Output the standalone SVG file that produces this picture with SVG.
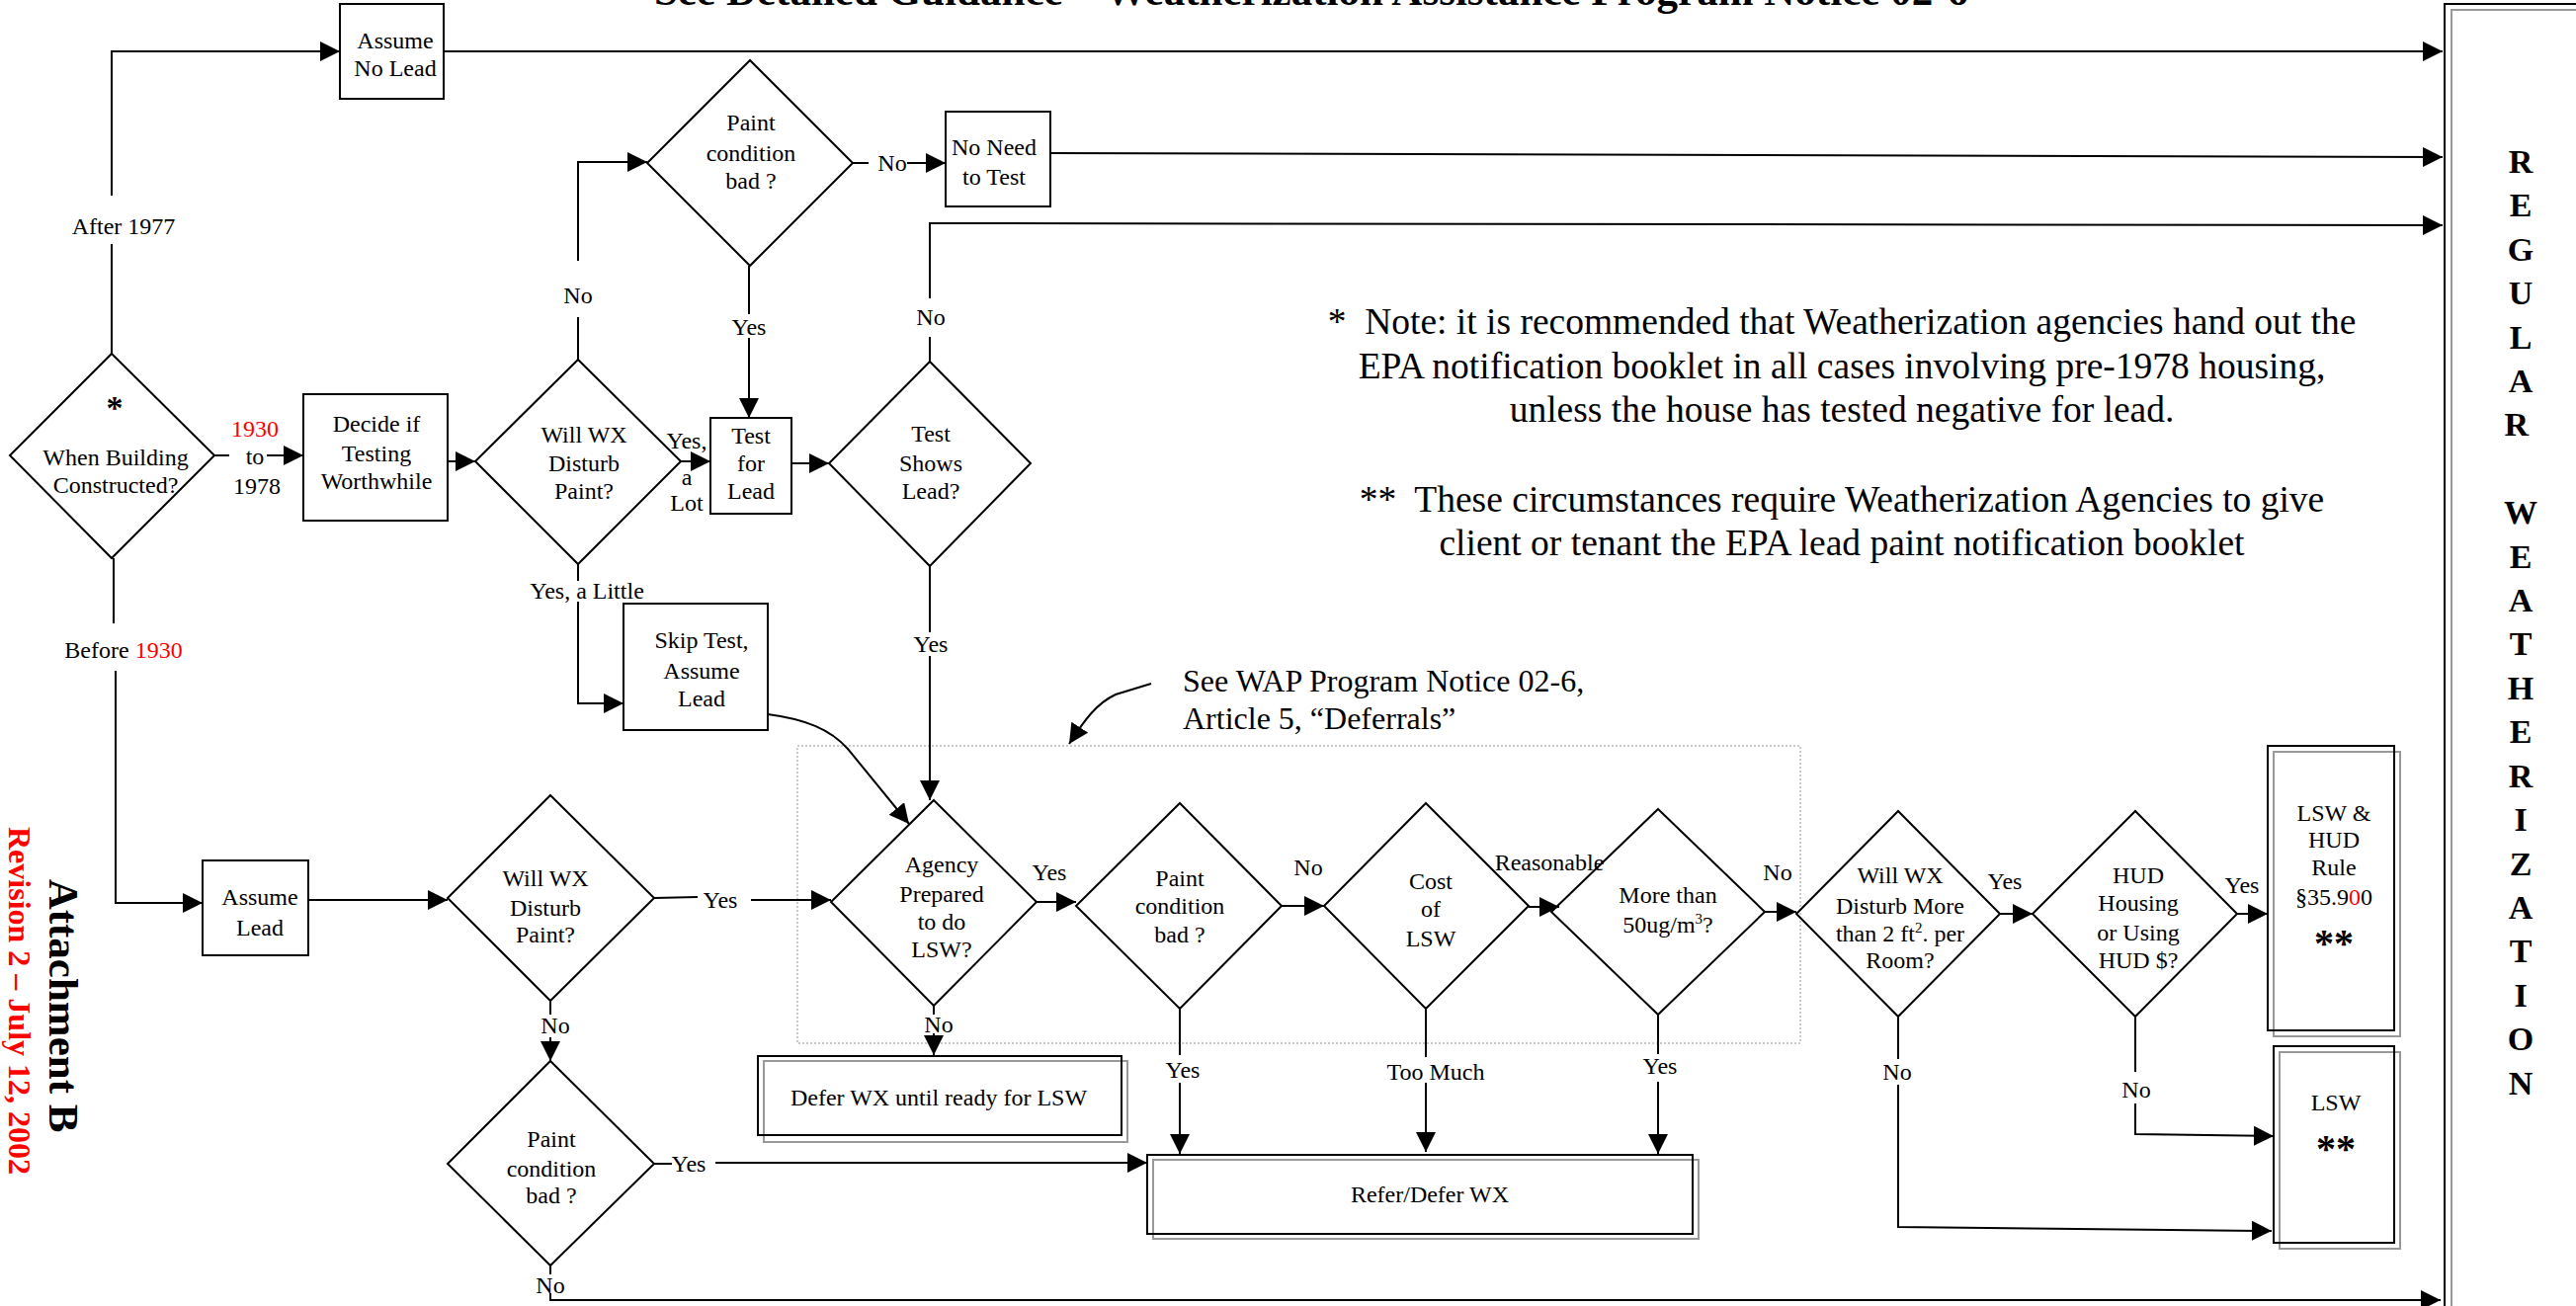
<svg xmlns="http://www.w3.org/2000/svg" width="2607" height="1322" viewBox="0 0 2607 1322">
<defs>
<marker id="ah" viewBox="0 0 20 20" refX="20" refY="10" markerWidth="20" markerHeight="20" markerUnits="userSpaceOnUse" orient="auto"><path d="M0,0 L20,10 L0,20 z" fill="#000"/></marker>
<style>
.n{fill:none;stroke:#000;stroke-width:2}
.g{fill:none;stroke:#999;stroke-width:2}
.t{font-family:"Liberation Serif","Times New Roman",serif;font-size:24px;fill:#000;text-anchor:middle}
.b{font-weight:bold}
.r{fill:#ff0000}
.l{fill:none;stroke:#000;stroke-width:2}
.a{fill:none;stroke:#000;stroke-width:2;marker-end:url(#ah)}
.note{font-size:37.5px;white-space:pre}
</style>
</defs>
<rect width="2607" height="1322" fill="#fff"/>

<text class="t b" x="662" y="5" style="text-anchor:start;font-size:42px" textLength="1330" lengthAdjust="spacingAndGlyphs">See Detailed Guidance – Weatherization Assistance Program Notice 02-6</text>

<g id="attachment">
<text class="t b" transform="translate(50,1018) rotate(90)" style="font-size:43px">Attachment B</text>
<text class="t b r" transform="translate(9,1013) rotate(90)" style="font-size:32px">Revision 2 – July 12, 2002</text>
</g>

<g id="notes">
<text class="t note" x="1864" y="338">*  Note: it is recommended that Weatherization agencies hand out the</text>
<text class="t note" x="1864" y="383">EPA notification booklet in all cases involving pre-1978 housing,</text>
<text class="t note" x="1864" y="427">unless the house has tested negative for lead.</text>
<text class="t note" x="1864" y="518">**  These circumstances require Weatherization Agencies to give</text>
<text class="t note" x="1864" y="562">client or tenant the EPA lead paint notification booklet</text>
</g>

<g id="deferral-note">
<rect x="807" y="755" width="1015" height="301" fill="none" stroke="#bbb" stroke-width="1.5" stroke-dasharray="2,2"/>
<text class="t" style="font-size:32px;text-anchor:start" x="1197" y="700">See WAP Program Notice 02-6,</text>
<text class="t" style="font-size:32px;text-anchor:start" x="1197" y="738">Article 5, “Deferrals”</text>
</g>

<g id="regular-wx">
<rect class="n" x="2474" y="4" width="220" height="1400"/>
<rect class="g" x="2481" y="10" width="220" height="1400"/>
<text class="t b" style="font-size:34px">
<tspan x="2551" y="175">R</tspan><tspan x="2551" y="219">E</tspan><tspan x="2551" y="264">G</tspan><tspan x="2551" y="308">U</tspan><tspan x="2551" y="353">L</tspan><tspan x="2551" y="397">A</tspan><tspan x="2551" y="441">R</tspan>
<tspan x="2551" y="530">W</tspan><tspan x="2551" y="575">E</tspan><tspan x="2551" y="619">A</tspan><tspan x="2551" y="663">T</tspan><tspan x="2551" y="708">H</tspan><tspan x="2551" y="752">E</tspan><tspan x="2551" y="797">R</tspan><tspan x="2551" y="841">I</tspan><tspan x="2551" y="886">Z</tspan><tspan x="2551" y="930">A</tspan><tspan x="2551" y="974">T</tspan><tspan x="2551" y="1019">I</tspan><tspan x="2551" y="1063">O</tspan><tspan x="2551" y="1108">N</tspan>
</text>
</g>

<g id="connectors">
<path class="a" d="M113,358 V247 M113,198 V52 H344"/>
<path class="a" d="M449,52 H2472"/>
<path class="a" d="M217,461 H232 M270,461 H307"/>
<path class="a" d="M453,467 H481"/>
<path class="a" d="M689,467 H719"/>
<path class="a" d="M801,469 H839"/>
<path class="a" d="M585,364 V321 M585,264 V164 H655"/>
<path class="a" d="M863,165 H879 M918,165 H957"/>
<path class="a" d="M758,269 V318 M758,342 V423"/>
<path class="a" d="M1063,155 L2472,159"/>
<path class="a" d="M941,366 V341 M941,302 V226 L2472,228"/>
<path class="a" d="M941,573 V640 M941,664 V810"/>
<path class="a" d="M585,571 V588 M585,609 V712 H631"/>
<path class="a" d="M777,723 C815,728 840,738 858,758 L920,834"/>
<path class="a" d="M115,565 V631 M117,679 V914 H205"/>
<path class="a" d="M312,911 H453"/>
<path class="a" d="M662,909 L706,908 M760,911 H841"/>
<path class="a" d="M557,1013 V1027 M557,1050 V1074"/>
<path class="a" d="M662,1178 H680 M724,1177 H1161"/>
<path class="a" d="M557,1281 V1290 M557,1309 V1316 H2470"/>
<path class="a" d="M1049,913 H1089"/>
<path class="a" d="M1297,917 H1340"/>
<path class="a" d="M1547,918 H1578"/>
<path class="a" d="M1786,923 H1818"/>
<path class="a" d="M2024,925 H2057"/>
<path class="a" d="M2264,925 H2295"/>
<path class="a" d="M945,1018 V1027 M945,1046 V1068"/>
<path class="a" d="M1194,1021 V1068 M1194,1096 V1168"/>
<path class="a" d="M1443,1021 V1070 M1443,1096 V1166"/>
<path class="a" d="M1678,1027 V1067 M1678,1095 V1168"/>
<path class="a" d="M1921,1029 V1072 M1921,1098 V1242 L2299,1246"/>
<path class="a" d="M2161,1029 V1085 M2161,1117 V1148 L2301,1150"/>
<path class="a" d="M1165,692 L1129,703 C1110,712 1098,728 1082,753"/>
</g>

<g id="connector-labels">
<text class="t" x="125" y="237">After 1977</text>
<text class="t" x="258" y="442"><tspan class="r">1930</tspan></text>
<text class="t" x="258" y="470">to</text>
<text class="t" x="260" y="500">1978</text>
<text class="t" x="125" y="666">Before <tspan class="r">1930</tspan></text>
<text class="t" x="585" y="307">No</text>
<text class="t" x="903" y="173">No</text>
<text class="t" x="758" y="339">Yes</text>
<text class="t" x="695" y="454">Yes,</text>
<text class="t" x="695" y="491">a</text>
<text class="t" x="695" y="517">Lot</text>
<text class="t" x="942" y="329">No</text>
<text class="t" x="942" y="660">Yes</text>
<text class="t" x="594" y="606">Yes, a Little</text>
<text class="t" x="729" y="919">Yes</text>
<text class="t" x="562" y="1046">No</text>
<text class="t" x="697" y="1186">Yes</text>
<text class="t" x="557" y="1309">No</text>
<text class="t" x="1062" y="891">Yes</text>
<text class="t" x="1324" y="886">No</text>
<text class="t" x="1568" y="881">Reasonable</text>
<text class="t" x="1799" y="891">No</text>
<text class="t" x="2029" y="900">Yes</text>
<text class="t" x="2269" y="904">Yes</text>
<text class="t" x="950" y="1045">No</text>
<text class="t" x="1197" y="1091">Yes</text>
<text class="t" x="1453" y="1093">Too Much</text>
<text class="t" x="1680" y="1087">Yes</text>
<text class="t" x="1920" y="1093">No</text>
<text class="t" x="2162" y="1111">No</text>
</g>

<g id="n-assume-no-lead">
<rect class="n" x="344" y="4" width="105" height="96"/>
<text class="t" x="400" y="49">Assume</text>
<text class="t" x="400" y="77">No Lead</text>
</g>

<g id="n-when-built">
<polygon class="n" points="113,358 217,461 113,565 10,461"/>
<text class="t b" style="font-size:34px" x="116" y="424">*</text>
<text class="t" x="117" y="471">When Building</text>
<text class="t" x="117" y="499">Constructed?</text>
</g>

<g id="n-decide">
<rect class="n" x="307" y="399" width="146" height="128"/>
<text class="t" x="381" y="437">Decide if</text>
<text class="t" x="381" y="467">Testing</text>
<text class="t" x="381" y="495">Worthwhile</text>
</g>

<g id="n-will-wx-1">
<polygon class="n" points="585,364 689,467 585,571 481,467"/>
<text class="t" x="591" y="448">Will WX</text>
<text class="t" x="591" y="477">Disturb</text>
<text class="t" x="591" y="505">Paint?</text>
</g>

<g id="n-paint-1">
<polygon class="n" points="759,61 863,165 759,269 655,165"/>
<text class="t" x="760" y="132">Paint</text>
<text class="t" x="760" y="163">condition</text>
<text class="t" x="760" y="191">bad ?</text>
</g>

<g id="n-no-need">
<rect class="n" x="957" y="113" width="106" height="96"/>
<text class="t" x="1006" y="157">No Need</text>
<text class="t" x="1006" y="187">to Test</text>
</g>

<g id="n-test-lead">
<rect class="n" x="719" y="423" width="82" height="97"/>
<text class="t" x="760" y="449">Test</text>
<text class="t" x="760" y="477">for</text>
<text class="t" x="760" y="505">Lead</text>
</g>

<g id="n-test-shows">
<polygon class="n" points="941,366 1043,469 941,573 839,469"/>
<text class="t" x="942" y="447">Test</text>
<text class="t" x="942" y="477">Shows</text>
<text class="t" x="942" y="505">Lead?</text>
</g>

<g id="n-skip-test">
<rect class="n" x="631" y="611" width="146" height="128"/>
<text class="t" x="710" y="656">Skip Test,</text>
<text class="t" x="710" y="687">Assume</text>
<text class="t" x="710" y="715">Lead</text>
</g>

<g id="n-assume-lead">
<rect class="n" x="205" y="871" width="107" height="96"/>
<text class="t" x="263" y="916">Assume</text>
<text class="t" x="263" y="947">Lead</text>
</g>

<g id="n-will-wx-2">
<polygon class="n" points="557,805 662,909 557,1013 453,909"/>
<text class="t" x="552" y="897">Will WX</text>
<text class="t" x="552" y="927">Disturb</text>
<text class="t" x="552" y="954">Paint?</text>
</g>

<g id="n-paint-3">
<polygon class="n" points="557,1074 662,1178 557,1281 453,1178"/>
<text class="t" x="558" y="1161">Paint</text>
<text class="t" x="558" y="1191">condition</text>
<text class="t" x="558" y="1218">bad ?</text>
</g>

<g id="n-agency">
<polygon class="n" points="945,810 1049,913 945,1018 841,913"/>
<text class="t" x="953" y="883">Agency</text>
<text class="t" x="953" y="913">Prepared</text>
<text class="t" x="953" y="941">to do</text>
<text class="t" x="953" y="969">LSW?</text>
</g>

<g id="n-paint-2">
<polygon class="n" points="1194,813 1297,917 1194,1021 1089,917"/>
<text class="t" x="1194" y="897">Paint</text>
<text class="t" x="1194" y="925">condition</text>
<text class="t" x="1194" y="954">bad ?</text>
</g>

<g id="n-cost">
<polygon class="n" points="1443,813 1547,917 1443,1021 1340,917"/>
<text class="t" x="1448" y="900">Cost</text>
<text class="t" x="1448" y="928">of</text>
<text class="t" x="1448" y="958">LSW</text>
</g>

<g id="n-more-than">
<polygon class="n" points="1678,819 1786,923 1678,1027 1570,923"/>
<text class="t" x="1688" y="914">More than</text>
<text class="t" x="1688" y="944">50ug/m<tspan dy="-9" style="font-size:15px">3</tspan><tspan dy="9">?</tspan></text>
</g>

<g id="n-will-wx-3">
<polygon class="n" points="1921,821 2024,925 1921,1029 1818,925"/>
<text class="t" x="1923" y="894">Will WX</text>
<text class="t" x="1923" y="925">Disturb More</text>
<text class="t" x="1923" y="953">than 2 ft<tspan dy="-9" style="font-size:15px">2</tspan><tspan dy="9">. per</tspan></text>
<text class="t" x="1923" y="980">Room?</text>
</g>

<g id="n-hud">
<polygon class="n" points="2161,821 2264,925 2161,1029 2057,925"/>
<text class="t" x="2164" y="894">HUD</text>
<text class="t" x="2164" y="922">Housing</text>
<text class="t" x="2164" y="952">or Using</text>
<text class="t" x="2164" y="980">HUD $?</text>
</g>

<g id="n-defer-wx">
<rect class="g" x="773" y="1074" width="368" height="82"/>
<rect class="n" x="767" y="1069" width="368" height="80"/>
<text class="t" x="950" y="1119">Defer WX until ready for LSW</text>
</g>

<g id="n-refer-defer">
<rect class="g" x="1167" y="1174" width="552" height="80"/>
<rect class="n" x="1161" y="1169" width="552" height="80"/>
<text class="t" x="1447" y="1217">Refer/Defer WX</text>
</g>

<g id="n-lsw-hud">
<rect class="g" x="2301" y="761" width="128" height="288"/>
<rect class="n" x="2295" y="755" width="128" height="288"/>
<text class="t" x="2362" y="831">LSW &amp;</text>
<text class="t" x="2362" y="858">HUD</text>
<text class="t" x="2362" y="886">Rule</text>
<text class="t" x="2362" y="916">§35.9<tspan class="r">0</tspan>0</text>
<text class="t b" style="font-size:40px" x="2362" y="968">**</text>
</g>

<g id="n-lsw">
<rect class="g" x="2307" y="1065" width="122" height="199"/>
<rect class="n" x="2301" y="1059" width="122" height="199"/>
<text class="t" x="2364" y="1124">LSW</text>
<text class="t b" style="font-size:40px" x="2364" y="1176">**</text>
</g>
</svg>
